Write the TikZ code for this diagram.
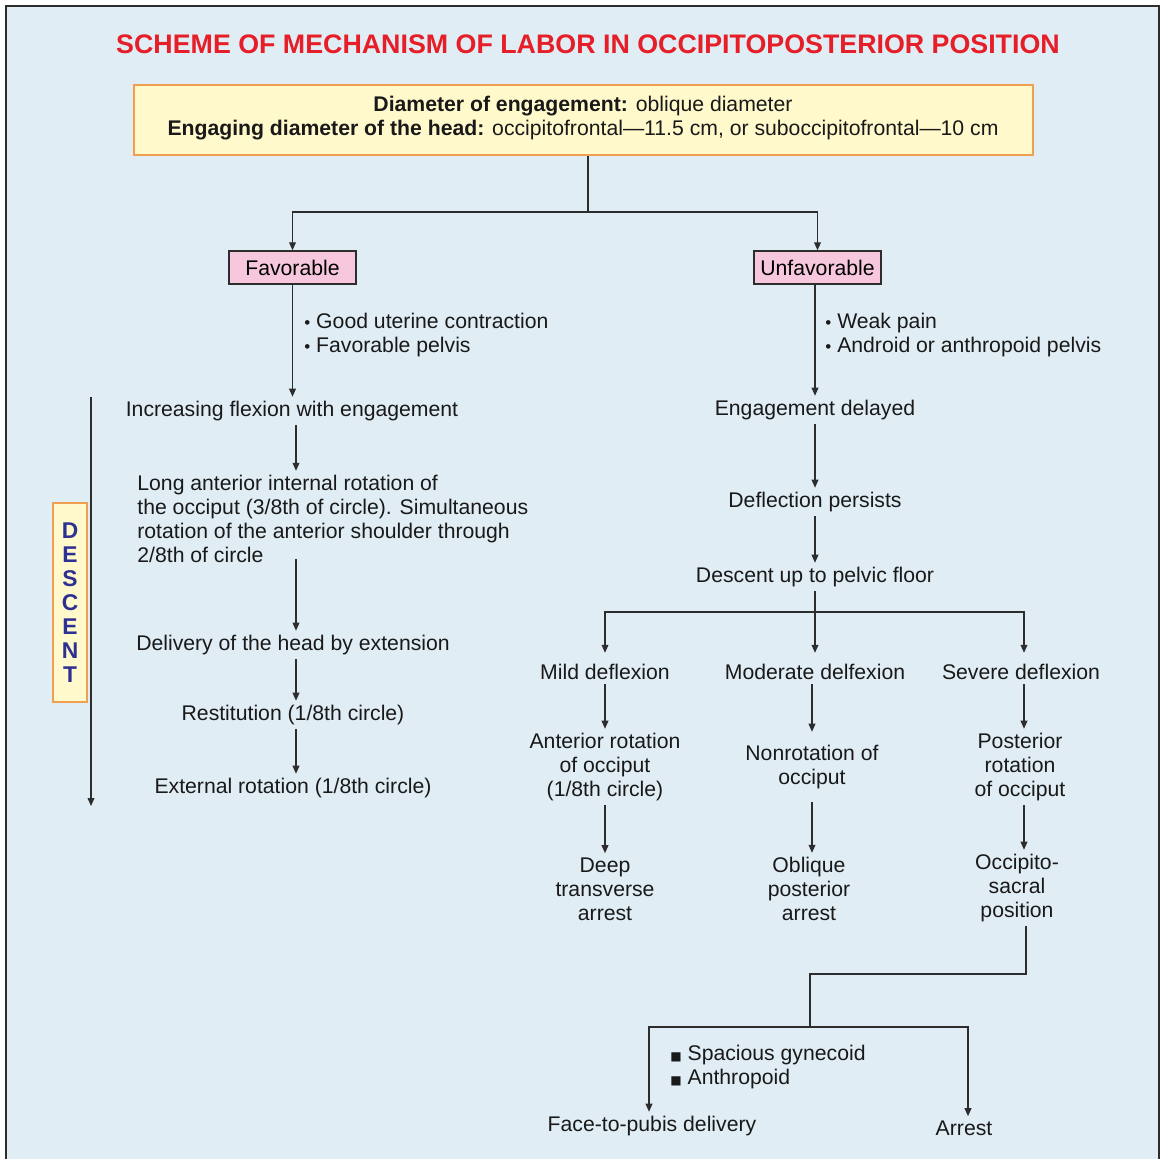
\documentclass[tikz,border=0pt]{standalone}
\usepackage{fontspec}
\setmainfont{Liberation Sans}
\newfontfamily\symfont{DejaVu Sans}
\usepackage{tikz}
\usetikzlibrary{arrows.meta,positioning,calc}
\definecolor{schemebg}{RGB}{224,237,244}
\definecolor{schemered}{RGB}{230,30,40}
\definecolor{boxyellow}{RGB}{255,249,204}
\definecolor{boxorange}{RGB}{238,160,80}
\definecolor{boxpink}{RGB}{247,200,221}
\definecolor{lettblue}{RGB}{46,49,146}
\definecolor{linegray}{RGB}{45,45,45}
\newcommand{\sbul}{{\fontsize{8.5}{12}\selectfont•}}
\newcommand{\qbul}{{\symfont\fontsize{6}{12}\selectfont■}}

\begin{document}
\begin{tikzpicture}[x=0.5pt,y=-0.5pt,font=\fontsize{10.6}{12}\selectfont,
  arr/.style={-{Triangle[length=4pt,width=3.4pt]},line width=0.6pt,draw=linegray},
  ln/.style={line width=0.6pt,draw=linegray},
  txt/.style={align=center,inner sep=2pt,text=black!90},
  ybox/.style={fill=boxyellow,draw=boxorange,line width=0.9pt},
  pbox/.style={fill=boxpink,draw=linegray,line width=0.7pt,minimum width=63.5pt,minimum height=16.5pt,inner sep=0pt}]
% Frame and background
\useasboundingbox (0,0) rectangle (1161,1159);
\fill[schemebg] (6,6) rectangle (1159,1175);
\draw[linegray,line width=1.3pt] (6,1175) -- (6,6) -- (1159,6) -- (1159,1175);
% Title and engagement box
\node[font=\fontsize{13.4}{15}\selectfont\bfseries,text=schemered] (title) at (588,44) {SCHEME OF MECHANISM OF LABOR IN OCCIPITOPOSTERIOR POSITION};
\node[ybox,minimum width=449.5pt,minimum height=35pt] (top) at (583.5,120) {};
\node[txt,align=center] (diam) at (583,118) {\textbf{Diameter of engagement:} oblique diameter\\\textbf{Engaging diameter of the head:} occipitofrontal---11.5 cm, or suboccipitofrontal---10 cm};
\coordinate (s1) at (588,212);
\draw[ln] (top.south -| s1) -- (s1);
% Favorable / unfavorable
\node[pbox] (fav) at (292.5,267.5) {Favorable};
\node[pbox] (unfav) at (817.5,267.5) {Unfavorable};
\draw[arr] (s1) -| (fav.north);
\draw[arr] (s1) -| (unfav.north);
% Left column
\coordinate (lx) at (296,0);
\node[txt,anchor=west,align=left] (goodlist) at (300,335) {\sbul\ Good uterine contraction\\\sbul\ Favorable pelvis};
\node[txt] (flex) at (292,411) {Increasing flexion with engagement};
\node[txt,anchor=west,align=left] (longrot) at (133,519) {Long anterior internal rotation of\\the occiput (3/8th of circle). Simultaneous\\rotation of the anterior shoulder through\\2/8th of circle};
\node[txt] (deliv) at (293,645) {Delivery of the head by extension};
\node[txt] (restit) at (293,715) {Restitution (1/8th circle)};
\node[txt] (extrot) at (293,788) {External rotation (1/8th circle)};
\draw[arr] (fav.south) -- (fav.south |- flex.north);
\draw[arr] (flex.south -| lx) -- (longrot.north -| lx);
\draw[arr] ([yshift=4pt]longrot.south -| lx) -- (deliv.north -| lx);
\draw[arr] (deliv.south -| lx) -- (restit.north -| lx);
\draw[arr] (restit.south -| lx) -- (extrot.north -| lx);
% Descent
\coordinate (dtop) at (91,397);
\coordinate (dbot) at (91,806);
\draw[arr] (dtop) -- (dbot);
\node[ybox,minimum width=17pt,minimum height=99.5pt] (descbox) at (70,602.5) {};
\node[font=\fontsize{11.4}{12}\selectfont\bfseries,text=lettblue,align=center,inner sep=0pt] (desc) at (descbox) {D\\E\\S\\C\\E\\N\\T};
% Right column
\coordinate (rx) at (815,0);
\node[txt,anchor=west,align=left] (weaklist) at (821,335) {\sbul\ Weak pain\\\sbul\ Android or anthropoid pelvis};
\node[txt] (engdel) at (815,410) {Engagement delayed};
\node[txt] (defl) at (815,502) {Deflection persists};
\node[txt] (pelvic) at (815,577) {Descent up to pelvic floor};
\draw[arr] (unfav.south -| rx) -- (engdel.north);
\draw[arr] (engdel.south) -- (defl.north);
\draw[arr] (defl.south) -- (pelvic.north);
% Three grades of deflexion
\coordinate (ax) at (605,0);
\coordinate (bx) at (812,0);
\coordinate (cx) at (1024,0);
\node[txt] (mild) at (605,672) {Mild deflexion};
\node[txt] (moder) at (815,672) {Moderate delfexion};
\node[txt] (sev) at (1021,672) {Severe deflexion};
\coordinate (s2) at (815,612);
\draw[arr,shorten >=3.5pt] (pelvic.south) -- (moder.north);
\draw[arr,shorten >=3.5pt] (s2) -| (mild.north -| ax);
\draw[arr,shorten >=3.5pt] (s2) -| (sev.north -| cx);
\node[txt] (antrot) at (605,767) {Anterior rotation\\of occiput\\(1/8th circle)};
\node[txt] (nonrot) at (812,767) {Nonrotation of\\occiput};
\node[txt] (postrot) at (1020,767) {Posterior\\rotation\\of occiput};
\draw[arr] (mild.south -| ax) -- (antrot.north -| ax);
\draw[arr] (moder.south -| bx) -- ([yshift=4.5pt]nonrot.north -| bx);
\draw[arr] (sev.south -| cx) -- (postrot.north -| cx);
\node[txt] (deeparr) at (605,889) {Deep\\transverse\\arrest};
\node[txt] (oblarr) at (809,889) {Oblique\\posterior\\arrest};
\node[txt] (ospos) at (1017,888) {Occipito-\\sacral\\position};
\draw[arr] (antrot.south -| ax) -- (deeparr.north -| ax);
\draw[arr] ([yshift=-4.5pt]nonrot.south -| bx) -- (oblarr.north -| bx);
\draw[arr] (postrot.south -| cx) -- (ospos.north -| cx);
% Outcome of occipitosacral position
\coordinate (j1) at (810,974);
\coordinate (j2) at (810,1027);
\coordinate (dx) at (1026,0);
\coordinate (fx) at (649,0);
\coordinate (gx) at (968,0);
\node[txt,anchor=west,align=left] (pelvlist) at (666,1067) {\qbul\ Spacious gynecoid\\\qbul\ Anthropoid};
\node[txt] (face) at (652,1126) {Face-to-pubis delivery};
\node[txt] (arrest) at (964,1128) {Arrest};
\draw[ln] (ospos.south -| dx) |- (j1) -- (j2);
\draw[arr] (j2) -| (face.north -| fx);
\draw[arr] (j2) -| (arrest.north -| gx);
\end{tikzpicture}
\end{document}
